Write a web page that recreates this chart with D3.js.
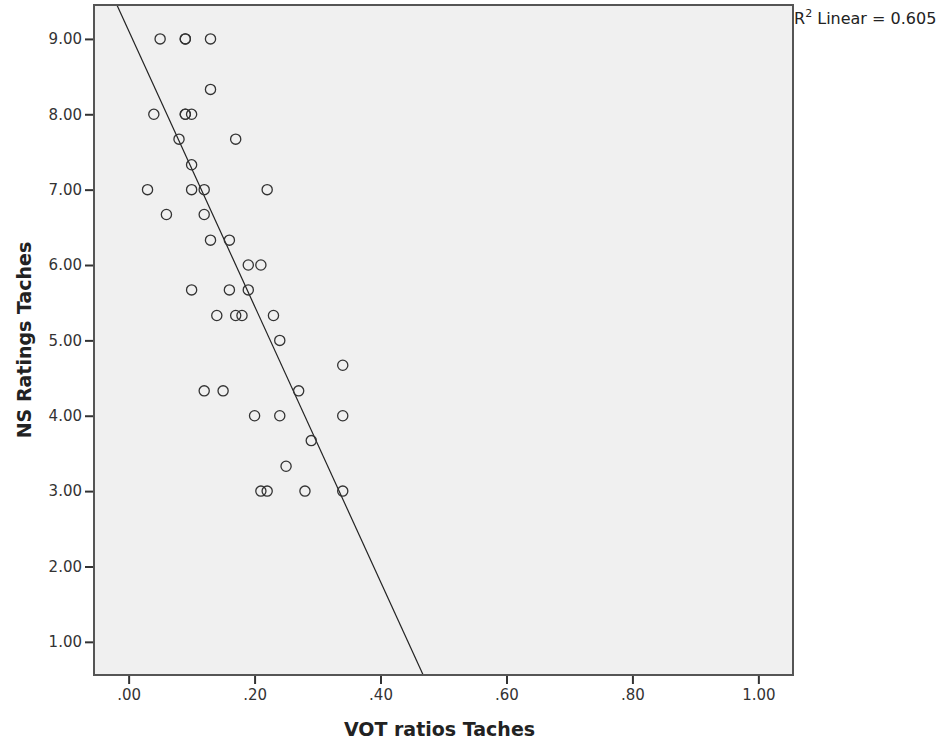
<!DOCTYPE html>
<html lang="en">
<head>
    <meta charset="UTF-8">
    <script src="https://cdnjs.cloudflare.com/ajax/libs/d3/7.8.5/d3.min.js"></script>
    <style>
        body { margin: 0; background: #fff; }
        text { font-family: "DejaVu Sans", sans-serif; }
    </style>
</head>
<body>
<svg id="chart" width="946" height="746"></svg>
<script>
    // VOT ratio (x) and NS rating (y) for each token
    const votRatios = [
        0.05, 0.09, 0.09, 0.13, 0.13,
        0.04, 0.09, 0.09, 0.10, 0.08, 0.17, 0.10,
        0.03, 0.10, 0.12, 0.22, 0.06, 0.12, 0.13, 0.16,
        0.19, 0.21, 0.10, 0.16, 0.19,
        0.14, 0.17, 0.18, 0.23, 0.24, 0.34,
        0.12, 0.15, 0.27, 0.20, 0.24, 0.34,
        0.29, 0.25, 0.21, 0.22, 0.28, 0.34
    ];
    const nsRatings = [
        9.00, 9.00, 9.00, 9.00, 8.33,
        8.00, 8.00, 8.00, 8.00, 7.67, 7.67, 7.33,
        7.00, 7.00, 7.00, 7.00, 6.67, 6.67, 6.33, 6.33,
        6.00, 6.00, 5.67, 5.67, 5.67,
        5.33, 5.33, 5.33, 5.33, 5.00, 4.67,
        4.33, 4.33, 4.33, 4.00, 4.00, 4.00,
        3.67, 3.33, 3.00, 3.00, 3.00, 3.00
    ];
    const xTicks = [0, 0.2, 0.4, 0.6, 0.8, 1.0];
    const yTicks = [1, 2, 3, 4, 5, 6, 7, 8, 9];
    const fitIntercept = 9.11;
    const fitSlope = -18.28;
    const rSquared = '0.605';

    const points = votRatios.map((v, i) => ({x: v, y: nsRatings[i]}));

    const svg = d3.select('#chart');
    const plotL = 94, plotR = 793, plotT = 5, plotB = 675;

    const xScale = d3.scaleLinear().domain([-0.055, 1.055]).range([plotL, plotR]);
    const yScale = d3.scaleLinear().domain([0.56, 9.45]).range([plotB, plotT]);

    svg.append('defs').append('clipPath').attr('id', 'plotClip')
        .append('rect')
        .attr('x', plotL).attr('y', plotT)
        .attr('width', plotR - plotL).attr('height', plotB - plotT);

    svg.append('rect')
        .attr('x', plotL).attr('y', plotT)
        .attr('width', plotR - plotL).attr('height', plotB - plotT)
        .style('fill', '#f0f0f0');

    // fitted line from the top edge to the bottom edge of the frame
    const yDom = yScale.domain();
    const fitPts = [yDom[1], yDom[0]].map(y => ({x: (y - fitIntercept) / fitSlope, y: y}));
    svg.append('path')
        .attr('clip-path', 'url(#plotClip)')
        .attr('d', d3.line().x(d => xScale(d.x)).y(d => yScale(d.y))(fitPts))
        .style('fill', 'none')
        .style('stroke', '#222')
        .style('stroke-width', 1.2);

    svg.append('g').selectAll('circle')
        .data(points).enter()
        .append('circle')
        .attr('cx', d => xScale(d.x))
        .attr('cy', d => yScale(d.y))
        .attr('r', 5.1)
        .style('fill', 'none')
        .style('stroke', '#333')
        .style('stroke-width', 1.3);

    const xAxis = svg.append('g')
        .attr('transform', `translate(0,${plotB})`)
        .call(d3.axisBottom(xScale).tickValues(xTicks).tickSize(9).tickPadding(5)
            .tickFormat(d => d3.format('.2f')(d).replace(/^0/, '')));

    const yAxis = svg.append('g')
        .attr('transform', `translate(${plotL},0)`)
        .call(d3.axisLeft(yScale).tickValues(yTicks).tickSize(9).tickPadding(3)
            .tickFormat(d3.format('.2f')));

    [xAxis, yAxis].forEach(g => {
        g.select('.domain').remove();
        g.selectAll('line').style('stroke', '#333').style('stroke-width', 2);
        g.selectAll('text').style('font-size', '15px').style('fill', '#333');
    });

    svg.append('rect')
        .attr('x', plotL).attr('y', plotT)
        .attr('width', plotR - plotL).attr('height', plotB - plotT)
        .style('fill', 'none')
        .style('stroke', '#555')
        .style('stroke-width', 2);

    svg.append('text')
        .attr('x', (plotL + plotR) / 2 - 4)
        .attr('y', 736)
        .attr('text-anchor', 'middle')
        .style('font-size', '19px')
        .style('font-weight', 'bold')
        .style('fill', '#222')
        .text('VOT ratios Taches');

    svg.append('text')
        .attr('transform', 'translate(31,340) rotate(-90)')
        .attr('text-anchor', 'middle')
        .style('font-size', '19px')
        .style('font-weight', 'bold')
        .style('fill', '#222')
        .text('NS Ratings Taches');

    const r2 = svg.append('text')
        .attr('x', plotR + 1)
        .attr('y', 24)
        .style('font-size', '16px')
        .style('fill', '#222');
    r2.append('tspan').text('R');
    r2.append('tspan').attr('dy', -7).style('font-size', '11px').text('2');
    r2.append('tspan').attr('dy', 7).text(' Linear = ' + rSquared);
</script>
</body>
</html>
